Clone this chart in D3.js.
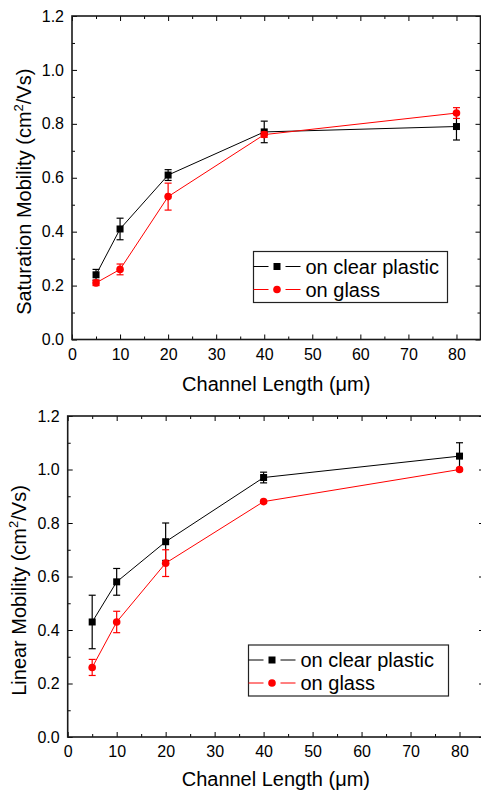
<!DOCTYPE html>
<html>
<head>
<meta charset="utf-8">
<script src="https://cdn.jsdelivr.net/npm/d3@7/dist/d3.min.js"></script>
<style>
  body { margin: 0; background: #fff; }
  svg { display: block; font-family: "Liberation Sans", Arial, sans-serif; }
</style>
</head>
<body>
<div id="chart"></div>
<script>
// channel length (um)
var channelLengths = [5, 10, 20, 40, 80];

// saturation mobility (cm2/Vs)
var satPlastic    = [0.24, 0.41, 0.61, 0.77, 0.79];
var satPlasticErr = [0.02, 0.04, 0.02, 0.04, 0.05];
var satGlass      = [0.21, 0.26, 0.53, 0.76, 0.84];
var satGlassErr   = [0.01, 0.02, 0.05, 0.01, 0.02];

// linear mobility (cm2/Vs)
var linPlastic    = [0.43, 0.58, 0.73, 0.97, 1.05];
var linPlasticErr = [0.10, 0.05, 0.07, 0.02, 0.05];
var linGlass      = [0.26, 0.43, 0.65, 0.88, 1.00];
var linGlassErr   = [0.03, 0.04, 0.05, 0.005, 0.005];

var seriesNames = ["on clear plastic", "on glass"];
var xMajor = [0, 10, 20, 30, 40, 50, 60, 70, 80];
var xMinor = [5, 15, 25, 35, 45, 55, 65, 75, 85];
var yMajor = [0, 0.2, 0.4, 0.6, 0.8, 1.0, 1.2];
var yMinor = [0.1, 0.3, 0.5, 0.7, 0.9, 1.1];

var W = 481, H = 792;

var svg = d3.select("#chart").append("svg")
	.attr("width", W)
	.attr("height", H);

function drawPanel(p){
	var x = d3.scaleLinear().domain([0, 85]).range([p.left, p.right]);
	var y = d3.scaleLinear().domain([0, 1.2]).range([p.bottom, p.top]);
	var g = svg.append("g");

	// ticks, all pointing into the plot
	function addAxis(axis, tr, labels){
		var a = g.append("g")
			.attr("transform", tr)
			.call(axis)
			.style("font-family", "inherit");
		a.select(".domain").remove();
		a.selectAll("line").attr("stroke", "#000").attr("stroke-width", 1);
		if(!labels){ a.selectAll("text").remove(); }
		return a;
	}
	var fmt = d3.format(".1f");

	var bx = addAxis(d3.axisBottom(x).tickValues(xMajor).tickSize(-5).tickPadding(9).tickFormat(d3.format("d")),
		"translate(0," + p.bottom + ")", true);
	bx.selectAll("text").attr("font-size", 16).attr("fill", "#000");
	addAxis(d3.axisBottom(x).tickValues(xMinor).tickSize(-3), "translate(0," + p.bottom + ")", false);
	addAxis(d3.axisTop(x).tickValues(xMajor).tickSize(-5), "translate(0," + p.top + ")", false);
	addAxis(d3.axisTop(x).tickValues(xMinor).tickSize(-3), "translate(0," + p.top + ")", false);

	var ly = addAxis(d3.axisLeft(y).tickValues(yMajor).tickSize(-5).tickPadding(8).tickFormat(fmt),
		"translate(" + p.left + ",0)", true);
	ly.selectAll("text").attr("font-size", 16).attr("fill", "#000");
	addAxis(d3.axisLeft(y).tickValues(yMinor).tickSize(-3), "translate(" + p.left + ",0)", false);
	addAxis(d3.axisRight(y).tickValues(yMajor).tickSize(-5), "translate(" + p.right + ",0)", false);
	addAxis(d3.axisRight(y).tickValues(yMinor).tickSize(-3), "translate(" + p.right + ",0)", false);

	// frame
	g.append("rect")
		.attr("x", p.left).attr("y", p.top)
		.attr("width", p.right - p.left).attr("height", p.bottom - p.top)
		.attr("fill", "none").attr("stroke", "#1a1a1a").attr("stroke-width", 1.6);

	var series = [
		{vals: p.black, err: p.blackErr, color: "#000", shape: "square"},
		{vals: p.red, err: p.redErr, color: "#ff0000", shape: "circle"}
	];

	var line = d3.line()
		.x(function(d){ return x(d.x); })
		.y(function(d){ return y(d.y); });

	series.forEach(function(s){
		var pts = channelLengths.map(function(c, i){ return {x: c, y: s.vals[i], e: s.err[i]}; });

		g.append("path")
			.datum(pts)
			.attr("d", line)
			.attr("fill", "none")
			.attr("stroke", s.color)
			.attr("stroke-width", 1);

		// error bars
		var eb = g.selectAll(null).data(pts).enter().append("g");
		eb.append("line")
			.attr("x1", function(d){ return x(d.x); })
			.attr("x2", function(d){ return x(d.x); })
			.attr("y1", function(d){ return y(d.y - d.e); })
			.attr("y2", function(d){ return y(d.y + d.e); })
			.attr("stroke", s.color).attr("stroke-width", 1.2);
		[-1, 1].forEach(function(sg){
			eb.append("line")
				.attr("x1", function(d){ return x(d.x) - 3.5; })
				.attr("x2", function(d){ return x(d.x) + 3.5; })
				.attr("y1", function(d){ return y(d.y + sg * d.e); })
				.attr("y2", function(d){ return y(d.y + sg * d.e); })
				.attr("stroke", s.color).attr("stroke-width", 1.2);
		});

		// markers
		if(s.shape == "square"){
			g.selectAll(null).data(pts).enter().append("rect")
				.attr("x", function(d){ return x(d.x) - 3.5; })
				.attr("y", function(d){ return y(d.y) - 3.5; })
				.attr("width", 7).attr("height", 7)
				.attr("fill", s.color);
		} else {
			g.selectAll(null).data(pts).enter().append("circle")
				.attr("cx", function(d){ return x(d.x); })
				.attr("cy", function(d){ return y(d.y); })
				.attr("r", 3.8)
				.attr("fill", s.color);
		}
	});

	// axis titles
	g.append("text")
		.attr("x", (p.left + p.right) / 2)
		.attr("y", p.xTitleY)
		.attr("text-anchor", "middle")
		.attr("font-size", 20)
		.text("Channel Length (\u03bcm)");

	var yt = g.append("text")
		.attr("transform", "translate(" + p.yTitleX + "," + ((p.top + p.bottom) / 2 + 14) + ") rotate(-90)")
		.attr("text-anchor", "middle")
		.attr("font-size", 20);
	yt.append("tspan").text(p.yTitle + " (cm");
	yt.append("tspan").attr("dy", -8).attr("font-size", 13).text("2");
	yt.append("tspan").attr("dy", 8).text("/Vs)");

	// legend
	var L = p.legend;
	var lg = g.append("g");
	lg.append("rect")
		.attr("x", L.x).attr("y", L.y)
		.attr("width", L.w).attr("height", L.h)
		.attr("fill", "#fff").attr("stroke", "#222").attr("stroke-width", 1.2);
	series.forEach(function(s, i){
		var cy = L.y + 15 + i * 23;
		lg.append("line").attr("x1", L.x).attr("x2", L.x + 15).attr("y1", cy).attr("y2", cy)
			.attr("stroke", s.color).attr("stroke-width", 1);
		lg.append("line").attr("x1", L.x + 32).attr("x2", L.x + 47).attr("y1", cy).attr("y2", cy)
			.attr("stroke", s.color).attr("stroke-width", 1);
		if(s.shape == "square"){
			lg.append("rect").attr("x", L.x + 20).attr("y", cy - 3.5).attr("width", 7).attr("height", 7).attr("fill", s.color);
		} else {
			lg.append("circle").attr("cx", L.x + 23.5).attr("cy", cy).attr("r", 3.8).attr("fill", s.color);
		}
		lg.append("text")
			.attr("x", L.x + 52)
			.attr("y", cy + 7)
			.attr("font-size", 20)
			.text(seriesNames[i]);
	});
}

drawPanel({
	left: 72, right: 480.5, top: 16, bottom: 339.5,
	black: satPlastic, blackErr: satPlasticErr,
	red: satGlass, redErr: satGlassErr,
	yTitle: "Saturation Mobility",
	yTitleX: 31, xTitleY: 391,
	legend: {x: 253.5, y: 251.5, w: 194, h: 51}
});

drawPanel({
	left: 67.7, right: 484, top: 416, bottom: 737,
	black: linPlastic, blackErr: linPlasticErr,
	red: linGlass, redErr: linGlassErr,
	yTitle: "Linear Mobility",
	yTitleX: 26, xTitleY: 786,
	legend: {x: 248.5, y: 645, w: 200, h: 51}
});
</script>
</body>
</html>
